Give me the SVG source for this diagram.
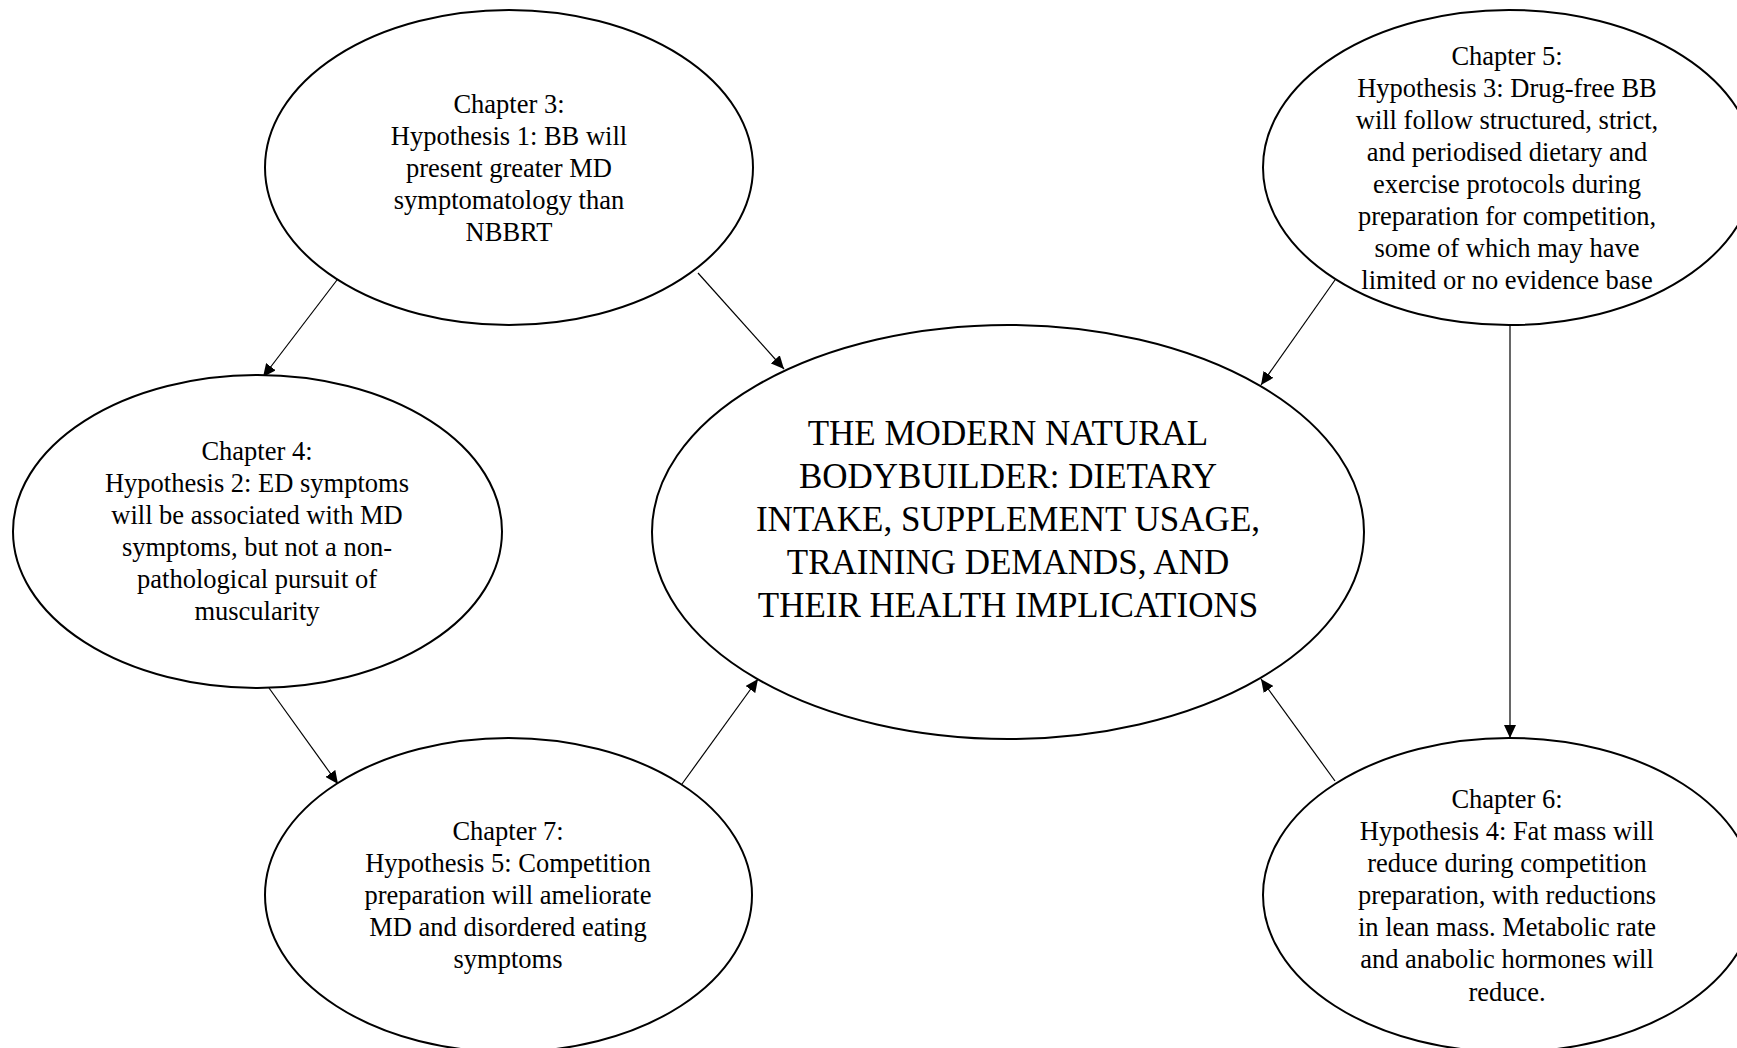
<svg xmlns="http://www.w3.org/2000/svg" width="1737" height="1048" viewBox="0 0 1737 1048">
<defs>
<marker id="ah" markerUnits="userSpaceOnUse" markerWidth="14" markerHeight="12" refX="13" refY="6" orient="auto">
<path d="M0,0 L13,6 L0,12 Z" fill="#000"/>
</marker>
</defs>
<style>
.node ellipse{fill:#fff;stroke:#000;stroke-width:2}
.node text{font-family:"Liberation Serif","Times New Roman",serif;font-size:26.5px;fill:#000;text-anchor:middle}
#central text{font-size:35px}
.conn line{stroke:#000;stroke-width:1.2;marker-end:url(#ah)}
</style>
<rect width="1737" height="1048" fill="#fff"/>
<g id="connectors" class="conn">
<line x1="337" y1="280" x2="263" y2="377"/>
<line x1="698" y1="273" x2="784" y2="369"/>
<line x1="1335" y1="280" x2="1261" y2="385"/>
<line x1="1510" y1="325" x2="1510" y2="738"/>
<line x1="269" y1="688" x2="338" y2="784"/>
<line x1="682" y1="784" x2="758" y2="679"/>
<line x1="1335" y1="781" x2="1261" y2="679"/>
</g>
<g id="central" class="node">
<ellipse cx="1008" cy="532" rx="356" ry="207"/>
<text x="1008" y="445">THE MODERN NATURAL</text>
<text x="1008" y="488">BODYBUILDER: DIETARY</text>
<text x="1008" y="531">INTAKE, SUPPLEMENT USAGE,</text>
<text x="1008" y="574">TRAINING DEMANDS, AND</text>
<text x="1008" y="617">THEIR HEALTH IMPLICATIONS</text>
</g>
<g id="ch3" class="node">
<ellipse cx="509" cy="167.5" rx="244" ry="157.5"/>
<text x="509" y="113">Chapter 3:</text>
<text x="509" y="145">Hypothesis 1: BB will</text>
<text x="509" y="177">present greater MD</text>
<text x="509" y="209">symptomatology than</text>
<text x="509" y="241">NBBRT</text>
</g>
<g id="ch5" class="node">
<ellipse cx="1509" cy="167.5" rx="246" ry="157.5"/>
<text x="1507" y="65">Chapter 5:</text>
<text x="1507" y="97">Hypothesis 3: Drug-free BB</text>
<text x="1507" y="129">will follow structured, strict,</text>
<text x="1507" y="161">and periodised dietary and</text>
<text x="1507" y="193">exercise protocols during</text>
<text x="1507" y="225">preparation for competition,</text>
<text x="1507" y="257">some of which may have</text>
<text x="1507" y="289">limited or no evidence base</text>
</g>
<g id="ch4" class="node">
<ellipse cx="257.5" cy="531.5" rx="244.5" ry="156.5"/>
<text x="257" y="460">Chapter 4:</text>
<text x="257" y="492">Hypothesis 2: ED symptoms</text>
<text x="257" y="524">will be associated with MD</text>
<text x="257" y="556">symptoms, but not a non-</text>
<text x="257" y="588">pathological pursuit of</text>
<text x="257" y="620">muscularity</text>
</g>
<g id="ch7" class="node">
<ellipse cx="508.5" cy="895" rx="243.5" ry="157"/>
<text x="508" y="840">Chapter 7:</text>
<text x="508" y="872">Hypothesis 5: Competition</text>
<text x="508" y="904">preparation will ameliorate</text>
<text x="508" y="936">MD and disordered eating</text>
<text x="508" y="968">symptoms</text>
</g>
<g id="ch6" class="node">
<ellipse cx="1509" cy="895" rx="246" ry="157"/>
<text x="1507" y="808">Chapter 6:</text>
<text x="1507" y="840">Hypothesis 4: Fat mass will</text>
<text x="1507" y="872">reduce during competition</text>
<text x="1507" y="904">preparation, with reductions</text>
<text x="1507" y="936">in lean mass. Metabolic rate</text>
<text x="1507" y="968">and anabolic hormones will</text>
<text x="1507" y="1001">reduce.</text>
</g>
</svg>
